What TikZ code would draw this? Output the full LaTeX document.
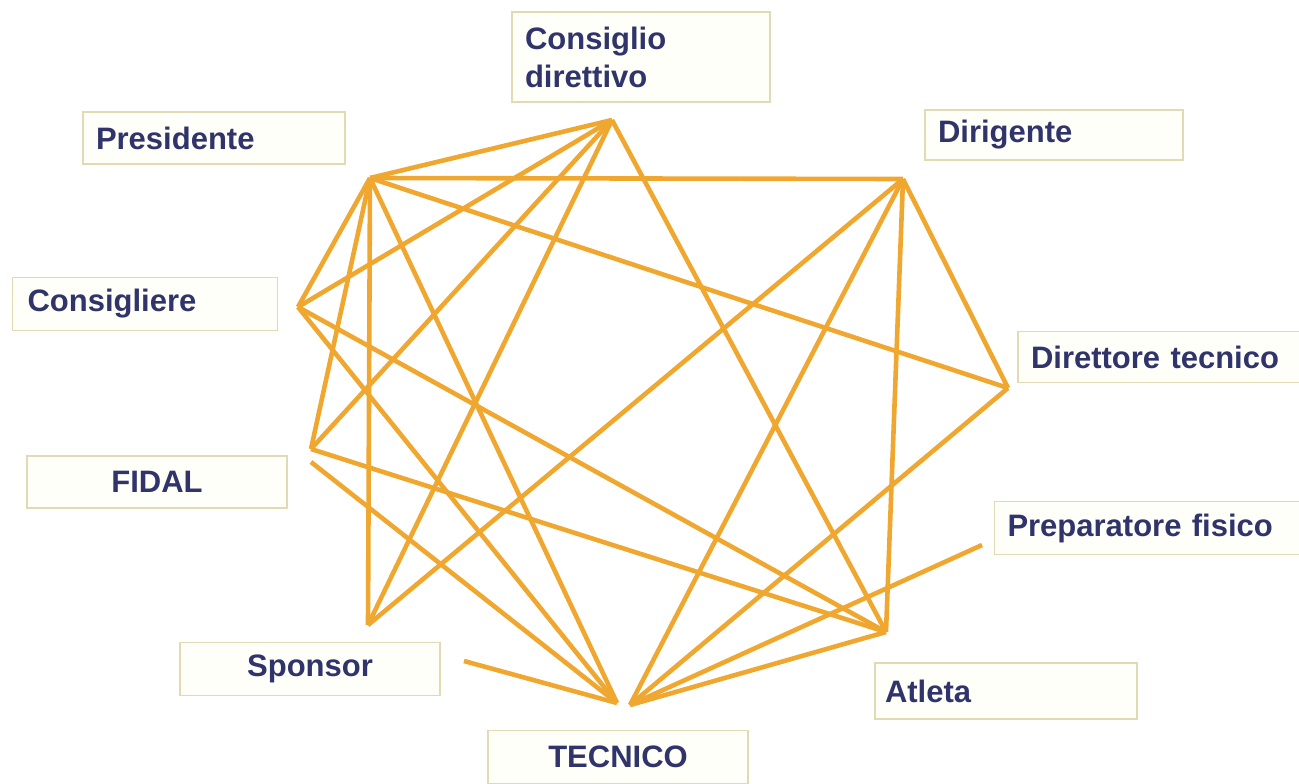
\documentclass[tikz,border=0pt]{standalone}
\usepackage{fontspec}
\setmainfont{Liberation Sans}
\definecolor{linkorange}{HTML}{EFA72F}
\definecolor{navy}{HTML}{30346A}
\definecolor{boxline}{HTML}{E2DAB4}
\definecolor{boxfill}{HTML}{FFFFFA}
\newcommand{\labelfont}{\fontsize{31}{38}\selectfont\bfseries}

\begin{document}
\begin{tikzpicture}[x=1pt,y=-1pt,
  box/.style={draw=boxline, fill=boxfill, line width=1.2pt, inner xsep=13pt,
    inner ysep=0pt, font=\labelfont, text=navy},
  link/.style={draw=linkorange, line width=4.6pt}]
  \useasboundingbox (0,0) rectangle (1299,784);

  %% Boxes
  \node[box, minimum height=90pt, text width=232pt, align=left]
    (consdir) at (641,57) {Consiglio\\direttivo};
  \node[box, minimum height=52pt, text width=236pt, align=left]
    (presidente) at (214,138) {Presidente};
  \node[box, minimum height=50pt, text width=232pt, align=left]
    (dirigente) at (1054,135) {Dirigente};
  \node[box, minimum height=53pt, text width=235pt, align=left, inner xsep=15pt]
    (consigliere) at (145,304) {Consigliere};
  \node[box, minimum height=51pt, text width=256pt, align=left]
    (direttore) at (1159,357) {Direttore tecnico};
  \node[box, minimum height=52pt, text width=234pt, align=center]
    (fidal) at (157,482) {FIDAL};
  \node[box, minimum height=53pt, text width=279pt, align=left]
    (preparatore) at (1147,528) {Preparatore fisico};
  \node[box, minimum height=53pt, text width=234pt, align=center]
    (sponsor) at (310,669) {Sponsor};
  \node[box, minimum height=56pt, text width=242pt, align=left, inner xsep=10pt]
    (atleta) at (1006,691) {Atleta};
  \node[box, minimum height=53pt, text width=234pt, align=center]
    (tecnico) at (618,757) {TECNICO};

  %% Line ends
  \coordinate (cd)  at (612,120);
  \coordinate (pr)  at (370,178);
  \coordinate (di)  at (903,179);
  \coordinate (co)  at (298,307);
  \coordinate (dt)  at (1008,388);
  \coordinate (fi)  at (311,449);
  \coordinate (fi2) at (311,462);
  \coordinate (pf)  at (982,545);
  \coordinate (sp)  at (368,625);
  \coordinate (sp2) at (464,661);
  \coordinate (at)  at (886,632);
  \coordinate (teL) at (617,703);
  \coordinate (teR) at (630,705);

  %% Links
  \foreach \a/\b in {pr/cd, pr/di, pr/dt, pr/co, pr/fi, pr/sp, pr/teL,
                     cd/co, cd/fi, cd/sp, cd/at,
                     di/dt, di/at, di/teR, di/sp,
                     co/teL, co/at, fi/at, fi2/teL, sp2/teL,
                     dt/teR, pf/teR, at/teR}
    \draw[link] (\a) -- (\b);
\end{tikzpicture}
\end{document}
